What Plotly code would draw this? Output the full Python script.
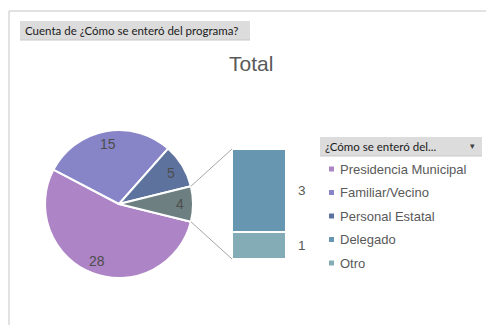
import math
import plotly.graph_objects as go

# ---- data ----
main_labels = ["Presidencia Municipal", "Familiar/Vecino", "Personal Estatal"]
main_values = [28, 15, 5]
sub_labels = ["Delegado", "Otro"]
sub_values = [3, 1]

main_colors = ["#AD84C6", "#8784C7", "#5D739E"]
other_color = "#6D7F80"
sub_colors = ["#6797B0", "#84ACB6"]

title_text = "Total"
field_text = "Cuenta de ¿Cómo se enteró del programa?"
legend_header = "¿Cómo se enteró del..."

# ---- page geometry (pixels) ----
W, H = 486, 325
cx, cy, r = 119, 204, 74          # main pie
bx0, bx1, by0, by1 = 232, 286, 149, 259  # stacked column (top / bottom)

def px(x):
    return x / W

def py(y):
    return (H - y) / H

other_total = sum(sub_values)
pie_values = main_values + [other_total]
pie_colors = main_colors + [other_color]
total = sum(pie_values)
other_deg = other_total / total * 360.0

fig = go.Figure()

# main pie, the combined slice centred at 3 o'clock
fig.add_trace(go.Pie(
    labels=main_labels + ["Otro (grupo)"],
    values=pie_values,
    sort=False,
    direction="clockwise",
    rotation=90 + other_deg / 2,
    marker=dict(colors=pie_colors, line=dict(color="white", width=2)),
    textinfo="none",
    hoverinfo="label+value",
    showlegend=False,
    domain=dict(x=[px(cx - r), px(cx + r)], y=[py(cy + r), py(cy - r)]),
))

annotations = []

# value labels inside the pie, on each slice mid-angle
start = -other_deg / 2
for v in pie_values:
    span = v / total * 360.0
    mid = math.radians(start - span / 2)
    annotations.append(dict(
        x=0.82 * math.cos(mid), y=0.82 * math.sin(mid), xref="x2", yref="y2",
        text=str(v), showarrow=False, xanchor="center", yanchor="middle",
        font=dict(family="Liberation Sans, Arial", size=14, color="#4D4D4D"),
    ))
    start -= span

# secondary stacked column (bottom to top: Otro, Delegado)
for lab, val, col in reversed(list(zip(sub_labels, sub_values, sub_colors))):
    fig.add_trace(go.Bar(
        x=[0], y=[val], width=1, name=lab,
        marker=dict(color=col, line=dict(color="white", width=2)),
        showlegend=False, hoverinfo="name+y",
    ))

cum = 0
for lab, val in reversed(list(zip(sub_labels, sub_values))):
    annotations.append(dict(
        x=0.5, y=cum + val / 2, xref="x", yref="y", text=str(val),
        showarrow=False, xanchor="left", xshift=10,
        font=dict(family="Liberation Sans, Arial", size=13.5, color="#595959"),
    ))
    cum += val

# invisible helper axis over the pie so labels can use pie-radius units
fig.add_trace(go.Scatter(x=[-1, 1], y=[-1, 1], mode="markers", marker=dict(opacity=0),
                         hoverinfo="skip", showlegend=False, xaxis="x2", yaxis="y2"))

# connector lines from the combined slice to the column
shapes = []
half = math.radians(other_deg / 2)
for sgn, ty in ((1, by0), (-1, by1)):
    sx = cx + r * math.cos(half)
    sy = cy - sgn * r * math.sin(half)
    shapes.append(dict(type="line", xref="paper", yref="paper",
                       x0=px(sx), y0=py(sy), x1=px(bx0), y1=py(ty),
                       line=dict(color="#A6A6A6", width=1)))

# chart frame
shapes.append(dict(type="line", xref="paper", yref="paper",
                   x0=px(9), y0=py(11), x1=1, y1=py(11),
                   line=dict(color="#D9D9D9", width=1.5)))
shapes.append(dict(type="line", xref="paper", yref="paper",
                   x0=px(9), y0=py(11), x1=px(9), y1=0,
                   line=dict(color="#D9D9D9", width=1.5)))

# field buttons
for x0, x1, y0, y1 in ((20, 250, 21, 40), (320, 482, 137, 156)):
    shapes.append(dict(type="rect", xref="paper", yref="paper",
                       x0=px(x0), x1=px(x1), y0=py(y1), y1=py(y0),
                       fillcolor="#DCDCDC", line=dict(width=0), layer="below"))
    shapes.append(dict(type="line", xref="paper", yref="paper",
                       x0=px(x0), x1=px(x1), y0=py(y1), y1=py(y1),
                       line=dict(color="#C8C8C8", width=1)))

annotations.append(dict(x=px(23), y=py(30.5), xref="paper", yref="paper",
                        text=field_text, showarrow=False, xanchor="left", yanchor="middle",
                        font=dict(family="Lato", size=11.5, color="#1A1A1A")))
annotations.append(dict(x=px(323), y=py(146.5), xref="paper", yref="paper",
                        text=legend_header, showarrow=False, xanchor="left", yanchor="middle",
                        font=dict(family="Lato", size=11.5, color="#1A1A1A")))
annotations.append(dict(x=px(472), y=py(146), xref="paper", yref="paper",
                        text="▾", showarrow=False, xanchor="center", yanchor="middle",
                        font=dict(family="DejaVu Sans", size=9, color="#404040")))

# title
annotations.append(dict(x=px(251), y=py(63), xref="paper", yref="paper",
                        text=title_text, showarrow=False, xanchor="center", yanchor="middle",
                        font=dict(family="Liberation Sans, Arial", size=21, color="#595959")))

# legend entries
leg_labels = main_labels + sub_labels
leg_colors = main_colors + sub_colors
leg_y0, leg_dy = 169, 23.5
for i, (lab, col) in enumerate(zip(leg_labels, leg_colors)):
    yy = leg_y0 + i * leg_dy
    shapes.append(dict(type="rect", xref="paper", yref="paper",
                       x0=px(329), x1=px(334), y0=py(yy + 2.5), y1=py(yy - 2.5),
                       fillcolor=col, line=dict(width=0)))
    annotations.append(dict(x=px(338), y=py(yy), xref="paper", yref="paper",
                            text=lab, showarrow=False, xanchor="left", yanchor="middle",
                            font=dict(family="Liberation Sans, Arial", size=13, color="#595959")))

fig.update_layout(
    width=W, height=H,
    margin=dict(l=0, r=0, t=0, b=0),
    paper_bgcolor="white", plot_bgcolor="rgba(0,0,0,0)",
    barmode="stack", bargap=0,
    xaxis=dict(domain=[px(bx0), px(bx1)], range=[-0.5, 0.5], visible=False, fixedrange=True),
    yaxis=dict(domain=[py(by1), py(by0)], range=[0, other_total], visible=False, fixedrange=True),
    xaxis2=dict(domain=[px(cx - r), px(cx + r)], range=[-1, 1], visible=False, anchor="y2",
                fixedrange=True),
    yaxis2=dict(domain=[py(cy + r), py(cy - r)], range=[-1, 1], visible=False, anchor="x2",
                fixedrange=True),
    shapes=shapes,
    annotations=annotations,
    showlegend=False,
)

fig.write_html("out.html")
